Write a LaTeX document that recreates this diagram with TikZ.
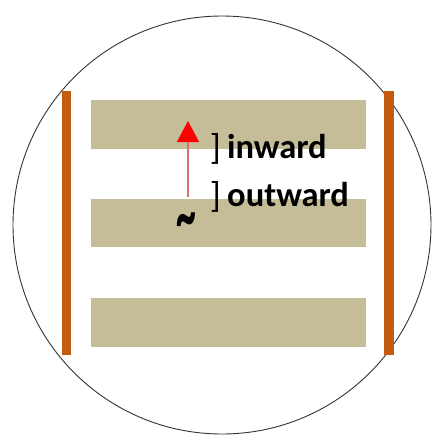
\documentclass[tikz,border=0pt]{standalone}
\usepackage{graphicx}
\usepackage{fontspec}
\setmainfont{Carlito}
\usetikzlibrary{arrows.meta}
\definecolor{tanbar}{RGB}{196,189,151}
\definecolor{rust}{RGB}{197,90,17}
\definecolor{pinkline}{RGB}{222,110,110}
\tikzset{
  layer/.style={fill=tanbar, draw=none},
  wall/.style={fill=rust, draw=none},
  lbl/.style={font=\fontsize{34.5}{34.5}\selectfont\bfseries, anchor=west, inner sep=0pt},
  brk/.style={font=\fontsize{36}{36}\selectfont, anchor=east, inner sep=0pt},
}
\begin{document}
\begin{tikzpicture}[x=1pt,y=-1pt]
\useasboundingbox (0,0) rectangle (433,437);
\draw[line width=0.9pt, black!80] (222,225) circle (209);
\fill[wall] (62,91) rectangle (71,355);
\fill[wall] (384,91) rectangle (394,355);
\fill[layer] (91,100) rectangle (366,149);
\fill[layer] (91,199) rectangle (366,247);
\fill[layer] (91,298) rectangle (366,347);
\coordinate (base) at (188,197);
\coordinate (tip) at (188,121);
\draw[pinkline, line width=1.2pt, -{Triangle[length=21pt,width=22pt,color=red]}] (base) -- (tip);
\node[inner sep=0pt, font=\fontsize{44}{44}\selectfont\bfseries] (tilde) at (186,227) {\scalebox{0.9}[1.7]{\char`\~}};
\node[brk] (b1) at (221,149) {]};
\node[lbl] (in) at (227,147) {inward};
\node[brk] (b2) at (221,197) {]};
\node[lbl] (out) at (227,195) {outward};
\end{tikzpicture}
\end{document}
